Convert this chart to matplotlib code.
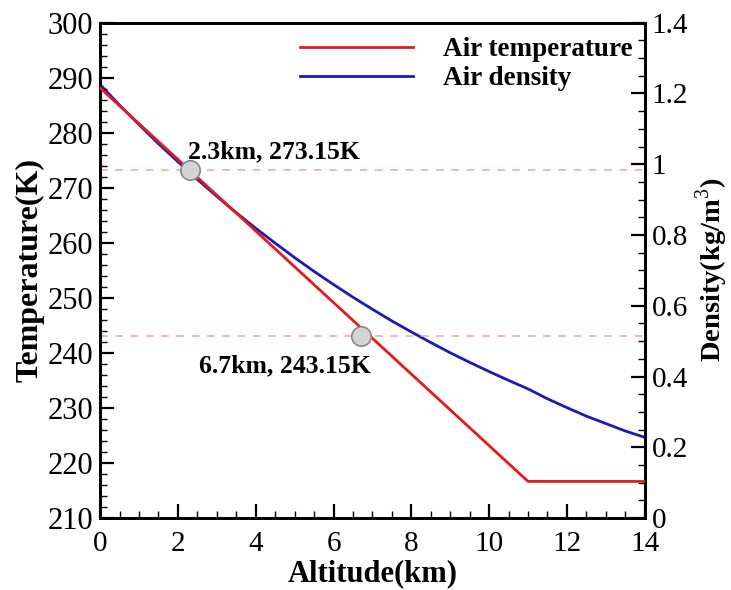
import matplotlib.pyplot as plt
from matplotlib.ticker import MultipleLocator

plt.rcParams['font.family'] = ['Liberation Serif', 'DejaVu Serif']
plt.rcParams['mathtext.fontset'] = 'custom'
plt.rcParams['mathtext.rm'] = 'Liberation Serif'
plt.rcParams['mathtext.bf'] = 'Liberation Serif:bold'

# standard atmosphere, 0-14 km
alt_t = [0, 11, 14]
temp = [288.15, 216.65, 216.65]

alt_rho = [0, 0.5, 1, 1.5, 2, 2.5, 3, 3.5, 4, 4.5, 5, 5.5, 6, 6.5, 7,
           7.5, 8, 8.5, 9, 9.5, 10, 10.5, 11, 11.5, 12, 12.5, 13, 13.5, 14]
rho = [1.225, 1.167, 1.112, 1.058, 1.007, 0.957, 0.909, 0.863, 0.819,
       0.777, 0.736, 0.697, 0.660, 0.624, 0.590, 0.557, 0.526, 0.496,
       0.467, 0.440, 0.414, 0.389, 0.365, 0.337, 0.312, 0.288, 0.267,
       0.246, 0.228]

# freezing points marked on the temperature curve
mark_alt = [2.3, 6.7]
mark_temp = [273.15, 243.15]
mark_text = ['2.3km, 273.15K', '6.7km, 243.15K']
text_pos = [(2.27, 276.5), (2.53, 237.6)]

fig = plt.figure(figsize=(7.31, 5.90), dpi=100)
ax = fig.add_axes([0.137, 0.122, 0.745, 0.8395])
ax2 = ax.twinx()

for t in mark_temp:
    ax.axhline(t, color='#f4a0a0', lw=1.1, ls=(0, (5, 5)), zorder=1)

l1, = ax.plot(alt_t, temp, color='#e8191b', lw=2, label='Air temperature', zorder=3)
l2, = ax2.plot(alt_rho, rho, color='#1a1ab8', lw=2, label='Air density', zorder=3)

ax.plot(mark_alt, mark_temp, 'o', ms=14, mfc='#d4d4d4', mec='#888888', mew=1.2, zorder=5)
for s, (x, y) in zip(mark_text, text_pos):
    ax.text(x, y, s, fontsize=18.5, fontweight='bold', ha='left', va='center', zorder=6)

ax.set_zorder(ax2.get_zorder() + 1)
ax.patch.set_visible(False)

ax.set_xlim(0, 14)
ax.set_ylim(210, 300)
ax2.set_ylim(0, 1.4)

ax.xaxis.set_major_locator(MultipleLocator(2))
ax.xaxis.set_minor_locator(MultipleLocator(0.5))
ax.yaxis.set_major_locator(MultipleLocator(10))
ax.yaxis.set_minor_locator(MultipleLocator(2))
ax2.yaxis.set_minor_locator(MultipleLocator(0.05))
ax2.set_yticks([0, 0.2, 0.4, 0.6, 0.8, 1.0, 1.2, 1.4])
ax2.set_yticklabels(['0', '0.2', '0.4', '0.6', '0.8', '1', '1.2', '1.4'])

for a in (ax, ax2):
    a.tick_params(which='major', direction='in', length=10, width=1.6, labelsize=21, pad=5)
    a.tick_params(which='minor', direction='in', length=5, width=1.0)
    for sp in a.spines.values():
        sp.set_linewidth(2)
ax.tick_params(axis='x', which='both', top=False, pad=9)
ax.tick_params(axis='y', which='both', right=False, labelsize=22)

ax.set_xlabel('Altitude(km)', fontsize=22, fontweight='bold', labelpad=2)
ax.set_ylabel('Temperature(K)', fontsize=23, fontweight='bold', labelpad=2)
ax2.set_ylabel(r'Density(kg/m$^{3}$)', fontsize=20.5, fontweight='bold', labelpad=4)

ax.legend([l1, l2], ['Air temperature', 'Air density'], loc='upper right',
          frameon=False, prop={'size': 19.5, 'weight': 'bold'},
          handlelength=4.2, handletextpad=1.1, labelspacing=0.15,
          bbox_to_anchor=(1.023, 1.02))

fig.savefig('out.png', dpi=100)
